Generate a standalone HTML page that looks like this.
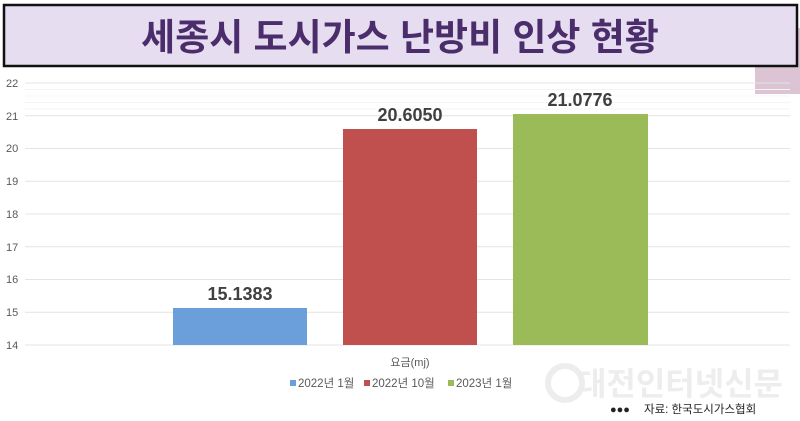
<!DOCTYPE html>
<html><head><meta charset="utf-8"><style>
body{margin:0;width:800px;height:421px;background:#fff;overflow:hidden;font-family:"Liberation Sans","Noto Sans CJK KR",sans-serif;}
</style></head><body>
<svg width="800" height="421" xmlns="http://www.w3.org/2000/svg" style="position:absolute;left:0;top:0">
<rect x="755" y="28" width="45" height="66" fill="#dcc4d4"/>
<rect x="4" y="5" width="793" height="61" fill="#e6def0" stroke="#111" stroke-width="2.5"/>
<text x="400" y="50" text-anchor="middle" font-family="Liberation Sans,Noto Sans CJK KR,sans-serif" font-size="37" font-weight="bold" fill="#4b2d6b">세종시 도시가스 난방비 인상 현황</text>
<g stroke="#f4f4f4" stroke-width="1">
<line x1="25" x2="790" y1="89.5" y2="89.5"/><line x1="25" x2="790" y1="96" y2="96"/><line x1="25" x2="790" y1="102.5" y2="102.5"/><line x1="25" x2="790" y1="109" y2="109"/>
</g>
<g stroke="#e4e4e4" stroke-width="1">
<line x1="25" x2="790" y1="83" y2="83"/><line x1="25" x2="790" y1="115.7" y2="115.7"/><line x1="25" x2="790" y1="148.5" y2="148.5"/><line x1="25" x2="790" y1="181.2" y2="181.2"/><line x1="25" x2="790" y1="214" y2="214"/><line x1="25" x2="790" y1="246.7" y2="246.7"/><line x1="25" x2="790" y1="279.5" y2="279.5"/><line x1="25" x2="790" y1="312.2" y2="312.2"/><line x1="25" x2="790" y1="345" y2="345"/>
</g>
<g font-size="11" fill="#595959">
<text x="6" y="87">22</text><text x="6" y="120">21</text><text x="6" y="152">20</text><text x="6" y="185">19</text><text x="6" y="218">18</text><text x="6" y="251">17</text><text x="6" y="283">16</text><text x="6" y="316">15</text><text x="6" y="349">14</text>
</g>
<rect x="173" y="308" width="134" height="37" fill="#6a9fdc"/>
<rect x="343" y="129" width="134" height="216" fill="#c0504d"/>
<rect x="513" y="114" width="135" height="231" fill="#9bbb59"/>
<g font-size="18" font-weight="bold" fill="#404040" text-anchor="middle">
<text x="240" y="300">15.1383</text><text x="410" y="121">20.6050</text><text x="580" y="106">21.0776</text>
</g>
<text x="410" y="366" font-size="11" fill="#595959" text-anchor="middle">요금(mj)</text>
<g font-size="11.5" fill="#595959">
<rect x="290" y="380" width="6" height="6" fill="#6a9fdc"/><text x="298" y="387">2022년 1월</text>
<rect x="364" y="380" width="6" height="6" fill="#c0504d"/><text x="372" y="387">2022년 10월</text>
<rect x="448" y="380" width="6" height="6" fill="#9bbb59"/><text x="456" y="387">2023년 1월</text>
</g>
<text x="680" y="395" font-size="32" font-weight="bold" fill="#ededed" text-anchor="middle">대전인터넷신문</text>
<circle cx="565" cy="383" r="17" fill="none" stroke="#ededed" stroke-width="6"/>
<text x="610" y="413" font-size="11" fill="#222">●●●</text>
<text x="644" y="413" font-size="11.5" fill="#222">자료: 한국도시가스협회</text>
</svg>
</body></html>
